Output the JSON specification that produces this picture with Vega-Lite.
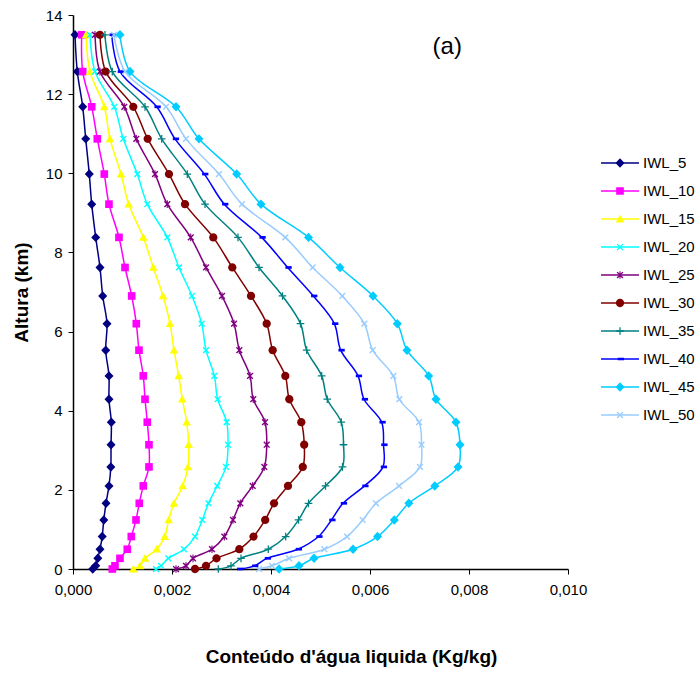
{
  "$schema": "https://vega.github.io/schema/vega-lite/v6.json",
  "width": 495,
  "height": 554,
  "autosize": {"type": "none"},
  "padding": {"left": 73, "top": 15, "right": 131, "bottom": 104},
  "background": "white",
  "config": {
    "view": {"stroke": null},
    "font": "Liberation Sans",
    "axis": {
      "grid": false,
      "labelFlush": false,
      "domainColor": "black",
      "domainWidth": 1.5,
      "tickColor": "black",
      "tickWidth": 1,
      "tickSize": 5,
      "labelColor": "black",
      "labelFont": "Liberation Sans",
      "labelFontSize": 15,
      "titleColor": "black",
      "titleFont": "Liberation Sans",
      "titleFontSize": 19,
      "titleFontWeight": "bold"
    },
    "legend": {
      "labelColor": "black",
      "labelFont": "Liberation Sans",
      "labelFontSize": 15
    }
  },
  "datasets": {
    "perfis": [
      {"h": 0.00, "IWL_5": 0.000398, "IWL_10": 0.000794, "IWL_15": 0.001218, "IWL_20": 0.001677, "IWL_25": 0.002081, "IWL_30": 0.002465, "IWL_35": 0.002935, "IWL_40": 0.003360, "IWL_45": 0.004162, "IWL_50": 0.003758},
      {"h": 0.08, "IWL_5": 0.000459, "IWL_10": 0.000848, "IWL_15": 0.001354, "IWL_20": 0.001778, "IWL_25": 0.002283, "IWL_30": 0.002687, "IWL_35": 0.003192, "IWL_40": 0.003663, "IWL_45": 0.004566, "IWL_50": 0.004020},
      {"h": 0.27, "IWL_5": 0.000501, "IWL_10": 0.000949, "IWL_15": 0.001455, "IWL_20": 0.001925, "IWL_25": 0.002424, "IWL_30": 0.002899, "IWL_35": 0.003394, "IWL_40": 0.003919, "IWL_45": 0.004869, "IWL_50": 0.004364},
      {"h": 0.50, "IWL_5": 0.000545, "IWL_10": 0.001097, "IWL_15": 0.001691, "IWL_20": 0.002242, "IWL_25": 0.002808, "IWL_30": 0.003360, "IWL_35": 0.003945, "IWL_40": 0.004545, "IWL_45": 0.005657, "IWL_50": 0.005077},
      {"h": 0.82, "IWL_5": 0.000590, "IWL_10": 0.001178, "IWL_15": 0.001853, "IWL_20": 0.002465, "IWL_25": 0.003057, "IWL_30": 0.003646, "IWL_35": 0.004297, "IWL_40": 0.004960, "IWL_45": 0.006152, "IWL_50": 0.005535},
      {"h": 1.24, "IWL_5": 0.000622, "IWL_10": 0.001273, "IWL_15": 0.001933, "IWL_20": 0.002612, "IWL_25": 0.003232, "IWL_30": 0.003883, "IWL_35": 0.004556, "IWL_40": 0.005222, "IWL_45": 0.006491, "IWL_50": 0.005853},
      {"h": 1.66, "IWL_5": 0.000667, "IWL_10": 0.001339, "IWL_15": 0.002040, "IWL_20": 0.002737, "IWL_25": 0.003380, "IWL_30": 0.004061, "IWL_35": 0.004758, "IWL_40": 0.005455, "IWL_45": 0.006784, "IWL_50": 0.006121},
      {"h": 2.10, "IWL_5": 0.000727, "IWL_10": 0.001420, "IWL_15": 0.002216, "IWL_20": 0.002913, "IWL_25": 0.003630, "IWL_30": 0.004343, "IWL_35": 0.005101, "IWL_40": 0.005889, "IWL_45": 0.007309, "IWL_50": 0.006586},
      {"h": 2.58, "IWL_5": 0.000764, "IWL_10": 0.001535, "IWL_15": 0.002323, "IWL_20": 0.003091, "IWL_25": 0.003865, "IWL_30": 0.004642, "IWL_35": 0.005444, "IWL_40": 0.006263, "IWL_45": 0.007778, "IWL_50": 0.007010},
      {"h": 3.14, "IWL_5": 0.000768, "IWL_10": 0.001535, "IWL_15": 0.002337, "IWL_20": 0.003131, "IWL_25": 0.003913, "IWL_30": 0.004671, "IWL_35": 0.005465, "IWL_40": 0.006273, "IWL_45": 0.007818, "IWL_50": 0.007040},
      {"h": 3.71, "IWL_5": 0.000774, "IWL_10": 0.001501, "IWL_15": 0.002297, "IWL_20": 0.003105, "IWL_25": 0.003879, "IWL_30": 0.004612, "IWL_35": 0.005420, "IWL_40": 0.006236, "IWL_45": 0.007737, "IWL_50": 0.006990},
      {"h": 4.29, "IWL_5": 0.000727, "IWL_10": 0.001455, "IWL_15": 0.002208, "IWL_20": 0.002923, "IWL_25": 0.003642, "IWL_30": 0.004370, "IWL_35": 0.005137, "IWL_40": 0.005879, "IWL_45": 0.007333, "IWL_50": 0.006592},
      {"h": 4.88, "IWL_5": 0.000727, "IWL_10": 0.001420, "IWL_15": 0.002135, "IWL_20": 0.002855, "IWL_25": 0.003576, "IWL_30": 0.004289, "IWL_35": 0.005024, "IWL_40": 0.005758, "IWL_45": 0.007186, "IWL_50": 0.006471},
      {"h": 5.53, "IWL_5": 0.000661, "IWL_10": 0.001333, "IWL_15": 0.002040, "IWL_20": 0.002687, "IWL_25": 0.003360, "IWL_30": 0.004034, "IWL_35": 0.004721, "IWL_40": 0.005408, "IWL_45": 0.006747, "IWL_50": 0.006055},
      {"h": 6.20, "IWL_5": 0.000687, "IWL_10": 0.001279, "IWL_15": 0.001960, "IWL_20": 0.002600, "IWL_25": 0.003253, "IWL_30": 0.003913, "IWL_35": 0.004596, "IWL_40": 0.005279, "IWL_45": 0.006552, "IWL_50": 0.005885},
      {"h": 6.90, "IWL_5": 0.000600, "IWL_10": 0.001186, "IWL_15": 0.001818, "IWL_20": 0.002404, "IWL_25": 0.003010, "IWL_30": 0.003596, "IWL_35": 0.004232, "IWL_40": 0.004855, "IWL_45": 0.006061, "IWL_50": 0.005440},
      {"h": 7.62, "IWL_5": 0.000545, "IWL_10": 0.001051, "IWL_15": 0.001622, "IWL_20": 0.002141, "IWL_25": 0.002687, "IWL_30": 0.003218, "IWL_35": 0.003758, "IWL_40": 0.004337, "IWL_45": 0.005394, "IWL_50": 0.004842},
      {"h": 8.38, "IWL_5": 0.000459, "IWL_10": 0.000929, "IWL_15": 0.001420, "IWL_20": 0.001905, "IWL_25": 0.002378, "IWL_30": 0.002834, "IWL_35": 0.003333, "IWL_40": 0.003812, "IWL_45": 0.004758, "IWL_50": 0.004289},
      {"h": 9.22, "IWL_5": 0.000378, "IWL_10": 0.000727, "IWL_15": 0.001125, "IWL_20": 0.001501, "IWL_25": 0.001905, "IWL_30": 0.002263, "IWL_35": 0.002667, "IWL_40": 0.003057, "IWL_45": 0.003798, "IWL_50": 0.003414},
      {"h": 9.98, "IWL_5": 0.000329, "IWL_10": 0.000632, "IWL_15": 0.000970, "IWL_20": 0.001299, "IWL_25": 0.001657, "IWL_30": 0.001939, "IWL_35": 0.002309, "IWL_40": 0.002653, "IWL_45": 0.003307, "IWL_50": 0.002949},
      {"h": 10.87, "IWL_5": 0.000257, "IWL_10": 0.000491, "IWL_15": 0.000747, "IWL_20": 0.001016, "IWL_25": 0.001279, "IWL_30": 0.001509, "IWL_35": 0.001792, "IWL_40": 0.002061, "IWL_45": 0.002545, "IWL_50": 0.002283},
      {"h": 11.68, "IWL_5": 0.000196, "IWL_10": 0.000378, "IWL_15": 0.000632, "IWL_20": 0.000834, "IWL_25": 0.001036, "IWL_30": 0.001218, "IWL_35": 0.001455, "IWL_40": 0.001691, "IWL_45": 0.002081, "IWL_50": 0.001879},
      {"h": 12.57, "IWL_5": 0.000087, "IWL_10": 0.000196, "IWL_15": 0.000343, "IWL_20": 0.000444, "IWL_25": 0.000545, "IWL_30": 0.000661, "IWL_35": 0.000794, "IWL_40": 0.000949, "IWL_45": 0.001152, "IWL_50": 0.001051},
      {"h": 13.50, "IWL_5": 0.000040, "IWL_10": 0.000176, "IWL_15": 0.000263, "IWL_20": 0.000343, "IWL_25": 0.000444, "IWL_30": 0.000545, "IWL_35": 0.000646, "IWL_40": 0.000782, "IWL_45": 0.000949, "IWL_50": 0.000828}
    ],
    "painel": [{"label": "(a)"}]
  },
  "layer": [
    {
      "data": {"name": "perfis"},
      "transform": [
        {"fold": ["IWL_5", "IWL_10", "IWL_15", "IWL_20", "IWL_25", "IWL_30", "IWL_35", "IWL_40", "IWL_45", "IWL_50"], "as": ["serie", "q"]}
      ],
      "mark": {"type": "line", "interpolate": "catmull-rom", "strokeWidth": 1.5},
      "encoding": {
        "x": {
          "field": "q",
          "type": "quantitative",
          "scale": {"domain": [0, 0.01], "nice": false},
          "axis": {
            "title": "Conteúdo d'água liquida (Kg/kg)",
            "values": [0, 0.002, 0.004, 0.006, 0.008, 0.01],
            "labelExpr": "replace(format(datum.value, '.3f'), '.', ',')",
            "labelPadding": 8,
            "titlePadding": 50,
            "titleX": 278
          }
        },
        "y": {
          "field": "h",
          "type": "quantitative",
          "scale": {"domain": [0, 14], "nice": false},
          "axis": {
            "title": "Altura (km)",
            "values": [0, 2, 4, 6, 8, 10, 12, 14],
            "labelPadding": 6,
            "titlePadding": 14
          }
        },
        "stroke": {
          "field": "serie",
          "type": "nominal",
          "scale": {
            "domain": ["IWL_5", "IWL_10", "IWL_15", "IWL_20", "IWL_25", "IWL_30", "IWL_35", "IWL_40", "IWL_45", "IWL_50"],
            "range": ["#000080", "#FF00FF", "#FFFF00", "#00FFFF", "#800080", "#800000", "#008080", "#0000FF", "#00CCFF", "#99CCFF"]
          },
          "legend": {
            "orient": "none",
            "legendX": 527,
            "legendY": 140,
            "title": null,
            "symbolType": "stroke",
            "symbolSize": 1444,
            "symbolStrokeWidth": 1.5,
            "clipHeight": 16,
            "rowPadding": 12,
            "padding": 0,
            "labelOpacity": 0
          }
        },
        "order": {"field": "h", "type": "quantitative"}
      }
    },
    {
      "data": {"name": "perfis"},
      "transform": [
        {"fold": ["IWL_5", "IWL_10", "IWL_15", "IWL_20", "IWL_25", "IWL_30", "IWL_35", "IWL_40", "IWL_45", "IWL_50"], "as": ["serie", "q"]}
      ],
      "mark": {"type": "point", "filled": true, "size": 81, "opacity": 1},
      "encoding": {
        "x": {"field": "q", "type": "quantitative"},
        "y": {"field": "h", "type": "quantitative"},
        "color": {
          "field": "serie",
          "type": "nominal",
          "sort": null,
          "scale": {
            "range": ["#000080", "#FF00FF", "#FFFF00", "#00FFFF", "#800080", "#800000", "#008080", "#0000FF", "#00CCFF", "#99CCFF"]
          },
          "legend": {
            "orient": "none",
            "legendX": 539.5,
            "legendY": 140,
            "title": null,
            "symbolSize": 81,
            "symbolStrokeWidth": 1.5,
            "clipHeight": 16,
            "rowPadding": 12,
            "padding": 0,
            "labelOffset": 15.5
          }
        },
        "shape": {
          "field": "serie",
          "type": "nominal",
          "sort": null,
          "scale": {
            "range": [
              "M0,-1.05L1,0L0,1.05L-1,0Z",
              "M-0.85,-0.85H0.85V0.85H-0.85Z",
              "M0,-0.95L0.95,0.75H-0.95Z",
              "M-0.75,-0.53L-0.53,-0.75L0,-0.22L0.53,-0.75L0.75,-0.53L0.22,0L0.75,0.53L0.53,0.75L0,0.22L-0.53,0.75L-0.75,0.53L-0.22,0Z",
              "M-0.75,-0.53L-0.53,-0.75L0,-0.22L0.53,-0.75L0.75,-0.53L0.22,0L0.75,0.53L0.53,0.75L0,0.22L-0.53,0.75L-0.75,0.53L-0.22,0ZM-0.12,-0.85H0.12V0.85H-0.12Z",
              "M-0.92,0A0.92,0.92,0,1,0,0.92,0A0.92,0.92,0,1,0,-0.92,0Z",
              "M-0.14,-0.85H0.14V-0.14H0.85V0.14H0.14V0.85H-0.14V0.14H-0.85V-0.14H-0.14Z",
              "M-0.5,-0.3H0.9V0.3H-0.5Z",
              "M0,-1.05L1,0L0,1.05L-1,0Z",
              "M-0.75,-0.53L-0.53,-0.75L0,-0.22L0.53,-0.75L0.75,-0.53L0.22,0L0.75,0.53L0.53,0.75L0,0.22L-0.53,0.75L-0.75,0.53L-0.22,0Z"
            ]
          },
          "legend": {
            "orient": "none",
            "legendX": 539.5,
            "legendY": 140,
            "title": null,
            "symbolSize": 81,
            "symbolStrokeWidth": 1.5,
            "clipHeight": 16,
            "rowPadding": 12,
            "padding": 0,
            "labelOffset": 15.5
          }
        }
      }
    },
    {
      "data": {"name": "painel"},
      "mark": {"type": "text", "fontSize": 24, "font": "Liberation Sans", "fill": "black", "align": "center", "baseline": "middle"},
      "encoding": {
        "x": {"datum": 0.00756, "type": "quantitative"},
        "y": {"datum": 13.19, "type": "quantitative"},
        "text": {"field": "label", "type": "nominal"}
      }
    }
  ]
}
